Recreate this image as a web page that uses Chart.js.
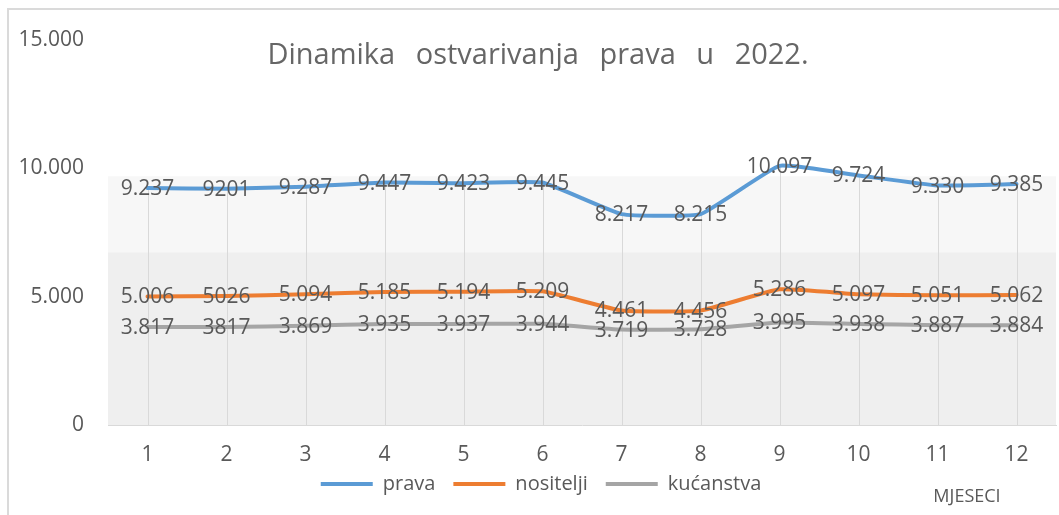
<!DOCTYPE html>
<html>
<head>
<meta charset="utf-8">
<script src="https://cdn.jsdelivr.net/npm/chart.js@4.4.1/dist/chart.umd.min.js"></script>
<style>
    html, body { margin: 0; padding: 0; background: #fff; }
    #wrap { position: relative; width: 1059px; height: 515px; }
    #frame {
        position: absolute; left: 7px; top: 8px; right: 0; bottom: 0;
        border-left: 2px solid #dadada; border-top: 2px solid #dadada;
    }
    canvas { position: absolute; left: 0; top: 0; }
</style>
</head>
<body>
<div id="wrap">
    <div id="frame"></div>
    <canvas id="chart" width="1059" height="515"></canvas>
</div>
<script>
// Chart data
const months = ['1', '2', '3', '4', '5', '6', '7', '8', '9', '10', '11', '12'];
const prava = [9237, 9201, 9287, 9447, 9423, 9445, 8217, 8215, 10097, 9724, 9330, 9385];
const nositelji = [5006, 5026, 5094, 5185, 5194, 5209, 4461, 4456, 5286, 5097, 5051, 5062];
const kucanstva = [3817, 3817, 3869, 3935, 3937, 3944, 3719, 3728, 3995, 3938, 3887, 3884];
const yTicks = [0, 5000, 10000, 15000];
// months whose labels are written without thousands dot in the original
const plainLabelMonths = ['2'];
// shaded background bands (value ranges)
const bandEdges = [9690, 6730];

const titleText = 'Dinamika ostvarivanja prava u 2022.';
const axisTitle = 'MJESECI';
const textColor = '#595959';

function formatNum(v) {
    return String(v).replace(/\B(?=(\d{3})+(?!\d))/g, '.');
}

const extrasPlugin = {
    id: 'extras',
    afterLayout(chart) {
        // nudge the legend a bit to the right, like in the original
        if (chart.legend) {
            chart.legend.left += 18;
            chart.legend.right += 18;
        }
    },
    beforeDraw(chart) {
        const { ctx, chartArea } = chart;
        const y = chart.scales.y;
        const y1 = y.getPixelForValue(bandEdges[0]);
        const y2 = y.getPixelForValue(bandEdges[1]);
        ctx.save();
        ctx.fillStyle = '#f7f7f7';
        ctx.fillRect(chartArea.left, y1, chartArea.right - chartArea.left, y2 - y1);
        ctx.fillStyle = '#efefef';
        ctx.fillRect(chartArea.left, y2, chartArea.right - chartArea.left, chartArea.bottom - y2);
        ctx.restore();
    },
    beforeDatasetsDraw(chart) {
        // drop lines from the highest point down to the axis
        const { ctx, chartArea } = chart;
        const metas = chart.data.datasets.map((d, i) => chart.getDatasetMeta(i));
        ctx.save();
        ctx.strokeStyle = '#d9d9d9';
        ctx.lineWidth = 1;
        months.forEach((m, i) => {
            const x = Math.round(metas[0].data[i].x) + 0.5;
            const top = Math.min(...metas.map(mt => mt.data[i].y));
            ctx.beginPath();
            ctx.moveTo(x, top);
            ctx.lineTo(x, chartArea.bottom);
            ctx.stroke();
        });
        ctx.restore();
    },
    afterDatasetsDraw(chart) {
        const { ctx } = chart;
        ctx.save();
        ctx.font = '21px "Open Sans"';
        ctx.fillStyle = textColor;
        ctx.textAlign = 'center';
        ctx.textBaseline = 'middle';
        chart.data.datasets.forEach((ds, di) => {
            const meta = chart.getDatasetMeta(di);
            meta.data.forEach((pt, i) => {
                const v = ds.data[i];
                const label = plainLabelMonths.includes(months[i]) ? String(v) : formatNum(v);
                ctx.fillText(label, pt.x, pt.y + 1);
            });
        });
        ctx.restore();
    },
    afterDraw(chart) {
        const { ctx, chartArea } = chart;
        ctx.save();
        ctx.fillStyle = '#666666';
        ctx.font = '29px "Open Sans"';
        ctx.textAlign = 'center';
        ctx.textBaseline = 'alphabetic';
        ctx.wordSpacing = '13px';
        ctx.fillText(titleText, 538, 64);
        ctx.wordSpacing = '0px';
        ctx.fillStyle = textColor;
        ctx.font = '18px "Open Sans"';
        ctx.textBaseline = 'middle';
        ctx.fillText(axisTitle, chartArea.right - 89, chartArea.bottom + 72);
        ctx.restore();
    }
};

new Chart(document.getElementById('chart'), {
    type: 'line',
    data: {
        labels: months,
        datasets: [
            { label: 'prava', data: prava, borderColor: '#5B9BD5', backgroundColor: '#5B9BD5', borderWidth: 4 },
            { label: 'nositelji', data: nositelji, borderColor: '#ED7D31', backgroundColor: '#ED7D31', borderWidth: 4 },
            { label: 'kućanstva', data: kucanstva, borderColor: '#A5A5A5', backgroundColor: '#A5A5A5', borderWidth: 4 }
        ]
    },
    options: {
        responsive: false,
        animation: false,
        layout: { padding: { left: 0, right: 3, top: 40, bottom: 11 } },
        elements: {
            line: { tension: 0.12, borderCapStyle: 'round', borderJoinStyle: 'round' },
            point: { radius: 0, hoverRadius: 0 }
        },
        plugins: {
            title: { display: false },
            tooltip: { enabled: false },
            legend: {
                position: 'bottom',
                labels: {
                    usePointStyle: true,
                    pointStyle: 'line',
                    pointStyleWidth: 52,
                    boxWidth: 52,
                    padding: 8,
                    color: textColor,
                    font: { family: 'Open Sans', size: 20 },
                    generateLabels(chart) {
                        const items = Chart.defaults.plugins.legend.labels.generateLabels(chart);
                        items.forEach(it => { it.text = it.text + '\u2002'; });
                        return items;
                    }
                }
            }
        },
        scales: {
            x: {
                offset: true,
                grid: { display: true, drawOnChartArea: false, drawTicks: false },
                border: { display: true, color: '#d9d9d9', width: 1 },
                ticks: { color: textColor, padding: 20, font: { family: 'Open Sans', size: 21, lineHeight: 1 } },
                afterFit(scale) { scale.height = 41; }
            },
            y: {
                min: 0,
                max: 15000,
                afterBuildTicks(scale) { scale.ticks = yTicks.map(v => ({ value: v })); },
                grid: { display: false, drawTicks: false },
                border: { display: false },
                ticks: {
                    color: textColor,
                    padding: 24,
                    font: { family: 'Open Sans', size: 21 },
                    callback: v => formatNum(v)
                },
                afterFit(scale) { scale.width = 108; }
            }
        }
    },
    plugins: [extrasPlugin]
});
</script>
</body>
</html>
